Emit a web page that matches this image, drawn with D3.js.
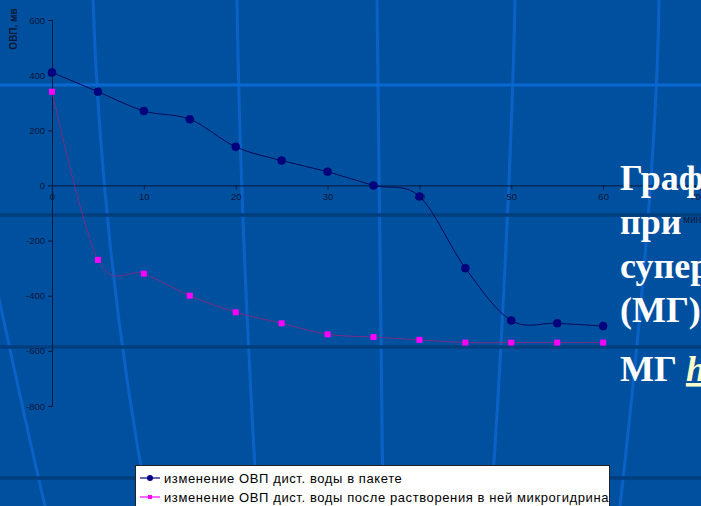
<!DOCTYPE html>
<html>
<head>
<meta charset="utf-8">
<script src="https://cdn.jsdelivr.net/npm/d3@7"></script>
<style>
  html, body { margin: 0; padding: 0; background: #0050a0; overflow: hidden; }
  svg { display: block; }
</style>
</head>
<body>
<svg id="slide" width="701" height="506"></svg>
<script>
// Time, minutes
const minutes = [0, 5, 10, 15, 20, 25, 30, 35, 40, 45, 50, 55, 60];
// ORP of distilled water stored in the bag, mV
const orpBag = [410, 340, 270, 240, 140, 90, 50, 0, -40, -300, -490, -500, -510];
// ORP of distilled water after dissolving microhydrin, mV
const orpMicrohydrin = [340, -270, -320, -400, -460, -500, -540, -550, -560, -570, -570, -570, -570];

const xTicks = [0, 10, 20, 30, 40, 50, 60, 70];
const yTicks = [600, 400, 200, 0, -200, -400, -600, -800];

const seriesNames = [
  "изменение ОВП дист. воды в пакете",
  "изменение ОВП дист. воды после растворения в ней микрогидрина"
];
const titleLines = ["График", "при", "суперантиоксиданта", "(МГ)"];

const svg = d3.select("#slide");
const W = 701, H = 506;

// ---- slide background ----
svg.append("rect").attr("width", W).attr("height", H).attr("fill", "#0050a0");

const deco = svg.append("g").attr("fill", "none");
// meridian-like decorative strokes
const meridians = [
  "M93,0 C98,150 115,330 148,506",
  "M237,0 C240,200 250,380 257,506",
  "M377,0 C378,200 381,400 383,506",
  "M515,0 C512,150 500,380 491,506",
  "M659,0 C657,150 640,330 620,506",
  "M-12,250 C0,300 20,400 45,506"
];
deco.selectAll("path.mer").data(meridians).join("path")
  .attr("class", "mer").attr("d", d => d)
  .attr("stroke", "#0a62c6").attr("stroke-width", 3);
// horizontal bands
deco.append("line").attr("x1", 0).attr("x2", W).attr("y1", 85).attr("y2", 85)
  .attr("stroke", "#0a68d2").attr("stroke-width", 3);
[215, 347, 478].forEach(yy => {
  deco.append("line").attr("x1", 0).attr("x2", W).attr("y1", yy).attr("y2", yy)
    .attr("stroke", "#003e7e").attr("stroke-width", 3.5);
});

// ---- chart ----
const x = d3.scaleLinear().domain([0, 70]).range([52, 695]);
const y = d3.scaleLinear().domain([-800, 600]).range([406, 20]);
const axisColor = "#0a1838";

const yAxis = svg.append("g").attr("transform", `translate(${x(0)},0)`)
  .call(d3.axisLeft(y).tickValues(yTicks).tickSize(4).tickPadding(3).tickFormat(d => String(d)));
const xAxis = svg.append("g").attr("transform", `translate(0,${y(0)})`)
  .call(d3.axisBottom(x).tickValues(xTicks).tickSize(4).tickPadding(4).tickFormat(d => String(d)));
[yAxis, xAxis].forEach(g => {
  g.select(".domain").attr("stroke", axisColor);
  g.selectAll(".tick line").attr("stroke", axisColor);
  g.selectAll(".tick text").attr("fill", axisColor)
    .style("font-family", "'Liberation Sans', Arial, sans-serif").style("font-size", "9.5px");
});

svg.append("text")
  .attr("transform", "translate(17,29) rotate(-90)")
  .attr("text-anchor", "middle")
  .attr("fill", axisColor)
  .style("font-family", "'Liberation Sans', Arial, sans-serif")
  .style("font-size", "10px").style("font-weight", "bold")
  .text("ОВП, мв");

svg.append("text")
  .attr("x", 675).attr("y", 223)
  .attr("fill", axisColor)
  .style("font-family", "'Liberation Sans', Arial, sans-serif")
  .style("font-size", "10px")
  .text("t, мин");

const curve = d3.curveCardinal.tension(0);
const line = d3.line().curve(curve);

const bagPts = minutes.map((m, i) => [x(m), y(orpBag[i])]);
const mgPts = minutes.map((m, i) => [x(m), y(orpMicrohydrin[i])]);

svg.append("path").attr("d", line(mgPts)).attr("fill", "none")
  .attr("stroke", "#7a2c86").attr("stroke-width", 1);
svg.append("path").attr("d", line(bagPts)).attr("fill", "none")
  .attr("stroke", "#000a55").attr("stroke-width", 1);

svg.selectAll("rect.mg").data(mgPts).join("rect")
  .attr("class", "mg")
  .attr("x", d => d[0] - 3).attr("y", d => d[1] - 3)
  .attr("width", 6).attr("height", 6).attr("fill", "#ff00ff");
svg.selectAll("circle.bag").data(bagPts).join("circle")
  .attr("class", "bag")
  .attr("cx", d => d[0]).attr("cy", d => d[1]).attr("r", 4)
  .attr("fill", "#000080").attr("stroke", "#000060").attr("stroke-width", 0.5);

// ---- legend ----
const legend = svg.append("g");
legend.append("rect").attr("x", 135.5).attr("y", 465.5).attr("width", 474).attr("height", 60)
  .attr("fill", "#ffffff").attr("stroke", "#222222").attr("stroke-width", 1);
const rowY = [478, 497];
const legColors = ["#000080", "#ff00ff"];
seriesNames.forEach((name, i) => {
  const gy = rowY[i];
  legend.append("line").attr("x1", 140).attr("x2", 160).attr("y1", gy).attr("y2", gy)
    .attr("stroke", legColors[i]).attr("stroke-width", 1.2);
  if (i === 0) {
    legend.append("circle").attr("cx", 150).attr("cy", gy).attr("r", 3).attr("fill", legColors[i]);
  } else {
    legend.append("rect").attr("x", 148).attr("y", gy - 2).attr("width", 4).attr("height", 4).attr("fill", legColors[i]);
  }
  legend.append("text").attr("x", 164).attr("y", gy).attr("dy", "0.35em")
    .attr("fill", "#000000")
    .style("font-family", "'Liberation Sans', Arial, sans-serif")
    .style("font-size", "13px")
    .style("letter-spacing", "0.6px")
    .text(name);
});

// ---- slide title ----
const title = svg.append("g")
  .style("font-family", "'Liberation Serif', 'Times New Roman', serif")
  .style("font-size", "36px").style("font-weight", "bold")
  .attr("fill", "#ffffff");
const titleY = [190, 234, 278, 322];
titleLines.forEach((t, i) => {
  title.append("text").attr("x", 620).attr("y", titleY[i]).text(t);
});
const last = title.append("text").attr("x", 620).attr("y", 381);
last.append("tspan").text("МГ ");
last.append("tspan").attr("fill", "#ffffcc").style("font-style", "italic")
  .style("text-decoration", "underline").text("http");
</script>
</body>
</html>
